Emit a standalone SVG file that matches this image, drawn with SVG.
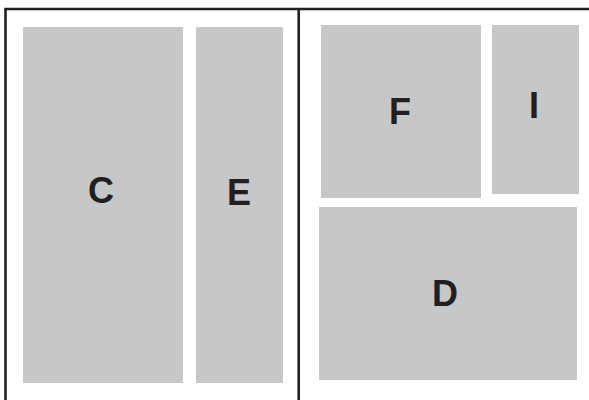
<svg xmlns="http://www.w3.org/2000/svg" width="589" height="400" viewBox="0 0 589 400">
<style>
.box{fill:#c6c7c9}
.lbl{font-family:"Liberation Sans",Arial,sans-serif;font-weight:bold;font-size:36px;fill:#231f20;text-anchor:middle}
.frame{stroke:#231f20;stroke-width:2.6;fill:none}
</style>
<rect width="589" height="400" fill="#fff"/>
<g id="connectors">
<path class="frame" d="M5.5,400 V9 H589 M298.7,9 V400"/>
</g>
<g id="C"><rect class="box" x="23" y="27" width="160" height="356"/><text class="lbl" x="101" y="203">C</text></g>
<g id="E"><rect class="box" x="196" y="27" width="87" height="356"/><text class="lbl" x="239" y="205">E</text></g>
<g id="F"><rect class="box" x="321" y="25" width="160" height="173"/><text class="lbl" x="400" y="124">F</text></g>
<g id="I"><rect class="box" x="492" y="25" width="87" height="169"/><text class="lbl" x="534" y="118">I</text></g>
<g id="D"><rect class="box" x="319" y="207" width="258" height="173"/><text class="lbl" x="445" y="306">D</text></g>
</svg>
